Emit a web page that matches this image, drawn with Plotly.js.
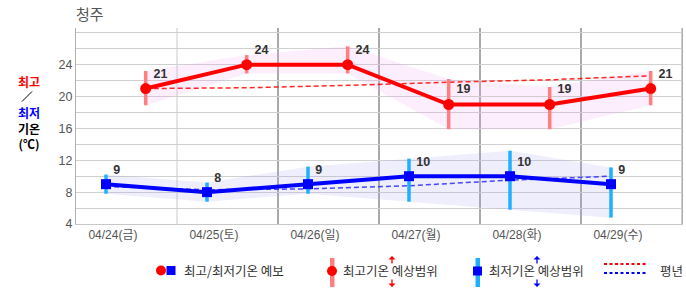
<!DOCTYPE html>
<html>
<head>
<meta charset="utf-8">
<script src="https://cdn.plot.ly/plotly-3.0.1.min.js"></script>
<style>html,body{margin:0;padding:0;background:#fff;}#chart{width:686px;height:295px;}</style>
</head>
<body>
<div id="chart"></div>
<script>
// ---- data ----
const dates = ['04/24(금)', '04/25(토)', '04/26(일)', '04/27(월)', '04/28(화)', '04/29(수)'];
const maxTemp = [21, 24, 24, 19, 19, 21];
const maxHi = [23.2, 25.2, 26.3, 22.2, 21.2, 23.2];
const maxLo = [18.9, 22.9, 22.9, 15.9, 15.9, 18.9];
const maxNormal = [21.0, 21.1, 21.4, 21.8, 22.1, 22.6];
const minTemp = [9, 8, 9, 10, 10, 9];
const minHi = [10.2, 9.2, 11.2, 12.2, 13.2, 11.1];
const minLo = [7.8, 6.8, 7.8, 6.8, 5.8, 4.8];
const minNormal = [8.7, 8.3, 8.4, 8.8, 9.5, 10.0];
const yTicks = [4, 8, 12, 16, 20, 24];

// ---- layout helpers ----
const MAX_OFF = 0.69, MIN_OFF = 0.297, LABEL_OFF = 0.366;
const dayIdx = dates.map((d, i) => i);
const xMax = dayIdx.map(i => i + MAX_OFF);
const xMin = dayIdx.map(i => i + MIN_OFF);
const xLab = dayIdx.map(i => i + LABEL_OFF);

const L = 76, R = 682, T = 28, B = 224;
const px = p => (p - L) / (R - L);
const py = p => (B - p) / (B - T);

const FONT = 'Liberation Sans, Arial, "Noto Sans CJK KR", sans-serif';
const KFONT = '"Noto Sans CJK KR", "Liberation Sans", sans-serif';

const band = (xs, hi, lo, color) => ({
  x: xs.concat(xs.slice().reverse()),
  y: hi.concat(lo.slice().reverse()),
  type: 'scatter', mode: 'lines', fill: 'toself', fillcolor: color,
  line: {width: 0}, hoverinfo: 'skip', showlegend: false
});

const traces = [
  band(xMax, maxHi, maxLo, 'rgba(236,160,245,0.18)'),
  band(xMin, minHi, minLo, 'rgba(160,160,240,0.18)'),
  {x: xMax, y: maxNormal, type: 'scatter', mode: 'lines',
   line: {color: 'rgba(255,0,0,0.85)', width: 1.5, dash: '5px,3px'}, showlegend: false},
  {x: xMin, y: minNormal, type: 'scatter', mode: 'lines',
   line: {color: 'rgba(40,40,255,0.85)', width: 1.5, dash: '5px,3px'}, showlegend: false},
  {x: xMin, y: minTemp, type: 'scatter', mode: 'lines+markers+text',
   line: {color: '#0000ff', width: 4},
   marker: {symbol: 'square', size: 10, color: '#0000ff'},
   text: minTemp.map(String), textposition: 'top right',
   textfont: {family: FONT, size: 12.5, color: '#333', weight: 'bold'},
   error_y: {type: 'data', symmetric: false,
     array: minHi.map((h, i) => h - minTemp[i]),
     arrayminus: minLo.map((l, i) => minTemp[i] - l),
     color: '#1eb0ff', thickness: 3.5, width: 0},
   showlegend: false},
  {x: xMax, y: maxTemp, type: 'scatter', mode: 'lines+markers+text',
   line: {color: '#ff0000', width: 4},
   marker: {symbol: 'circle', size: 11, color: '#ff0000'},
   text: maxTemp.map(String), textposition: 'top right',
   textfont: {family: FONT, size: 12.5, color: '#333', weight: 'bold'},
   error_y: {type: 'data', symmetric: false,
     array: maxHi.map((h, i) => h - maxTemp[i]),
     arrayminus: maxLo.map((l, i) => maxTemp[i] - l),
     color: '#ff7f7f', thickness: 3.5, width: 0},
   showlegend: false}
];

// vertical day separators
const shapes = [];
for (let i = 1; i <= 5; i++) {
  shapes.push({type: 'line', xref: 'x', yref: 'paper', x0: i, x1: i, y0: 0, y1: 1,
    line: {color: i === 1 ? '#c8c8c8' : '#555555', width: 1}, layer: 'below'});
}
shapes.push({type: 'line', xref: 'x', yref: 'paper', x0: 6, x1: 6, y0: 0, y1: 1,
  line: {color: '#999', width: 1}, layer: 'below'});

// y-label slash
shapes.push({type: 'line', xref: 'paper', yref: 'paper',
  x0: px(22), y0: py(101.5), x1: px(32), y1: py(91.5), line: {color: '#000', width: 1}});

// legend shapes
const circ = (cx, cy, r, color) => ({type: 'circle', xref: 'paper', yref: 'paper',
  x0: px(cx - r), x1: px(cx + r), y0: py(cy + r), y1: py(cy - r),
  fillcolor: color, line: {width: 0}});
const rect = (x0, y0, x1, y1, color) => ({type: 'rect', xref: 'paper', yref: 'paper',
  x0: px(x0), x1: px(x1), y0: py(y1), y1: py(y0), fillcolor: color, line: {width: 0}});
shapes.push(circ(161, 270.5, 5, '#ff0000'));
shapes.push(rect(166.5, 266, 175.5, 275, '#0000ff'));
shapes.push(rect(330, 258, 334.5, 287, '#ff7f7f'));
shapes.push(circ(332, 271, 5, '#ff0000'));
shapes.push(rect(475.5, 258, 480, 287, '#1eb0ff'));
shapes.push(rect(473, 266.5, 482, 275.5, '#0000ff'));
shapes.push({type: 'line', xref: 'paper', yref: 'paper', x0: px(604), x1: px(647), y0: py(264), y1: py(264),
  line: {color: '#ff0000', width: 2, dash: '3px,2.5px'}});
shapes.push({type: 'line', xref: 'paper', yref: 'paper', x0: px(604), x1: px(647), y0: py(273), y1: py(273),
  line: {color: '#0000ff', width: 2, dash: '3px,2.5px'}});

const arrow = (x, yTip, yTail, color) => ({xref: 'paper', yref: 'paper', x: px(x), y: py(yTip),
  ax: 0, ay: yTail - yTip, text: '', showarrow: true, arrowhead: 1, arrowsize: 0.9,
  arrowwidth: 1.3, arrowcolor: color, standoff: 0, startstandoff: 0});

const txt = (t, x, y, opts) => Object.assign({xref: 'paper', yref: 'paper', x: px(x), y: py(y),
  text: t, showarrow: false, xanchor: 'left', yanchor: 'middle',
  font: {family: KFONT, size: 12, color: '#333'}}, opts || {});

const yTitle = '<span style="color:#ff0000"><b>최고</b></span><br> <br>' +
  '<span style="color:#0000ff"><b>최저</b></span><br><b>기온</b><br><b>(℃)</b>';

const annotations = [
  // y-axis title block
  txt(yTitle, 28.5, 112, {xanchor: 'center', align: 'center',
    font: {family: KFONT, size: 12, color: '#000'}}),
  // legend
  txt('최고/최저기온 예보', 182, 270.5, {font: {family: KFONT, size: 12.5, color: '#333'}}),
  txt('최고기온 예상범위', 341, 270.5, {font: {family: KFONT, size: 12.5, color: '#333'}}),
  txt('최저기온 예상범위', 487, 270.5, {font: {family: KFONT, size: 12.5, color: '#333'}}),
  txt('평년', 658, 270.5, {font: {family: KFONT, size: 12.5, color: '#333'}}),
  arrow(392, 256, 265, '#ff0000'),
  arrow(392, 287, 278, '#ff0000'),
  arrow(537, 256, 265, '#0000ff'),
  arrow(537, 287, 278, '#0000ff')
];

const layout = {
  width: 686, height: 295,
  margin: {l: L, r: 686 - R, t: T, b: 295 - B, pad: 0},
  paper_bgcolor: '#fff', plot_bgcolor: '#fff',
  showlegend: false,
  title: {text: '청주', xref: 'paper', x: 0, xanchor: 'left', yref: 'container', y: 1 - 15 / 295,
    yanchor: 'middle', font: {family: KFONT, size: 15, color: '#555'}},
  xaxis: {range: [0, 6], tickmode: 'array', tickvals: xLab, ticktext: dates,
    showgrid: false, zeroline: false, showline: true, linecolor: '#c8c8c8', linewidth: 1,
    ticks: '', tickfont: {family: FONT, size: 12, color: '#555'}, fixedrange: true},
  yaxis: {range: [4, 28.6], tickmode: 'array', tickvals: yTicks,
    showgrid: true, gridcolor: '#d0d0d0', gridwidth: 1, zeroline: false,
    minor: {dtick: 2, tick0: 4, showgrid: true, gridcolor: '#d0d0d0', gridwidth: 1, ticks: ''},
    showline: true, mirror: true, linecolor: '#b0b0b0', linewidth: 1,
    ticks: '', tickfont: {family: FONT, size: 12.5, color: '#555'}, fixedrange: true},
  shapes: shapes,
  annotations: annotations
};

Plotly.newPlot('chart', traces, layout, {displayModeBar: false, staticPlot: true});
</script>
</body>
</html>
